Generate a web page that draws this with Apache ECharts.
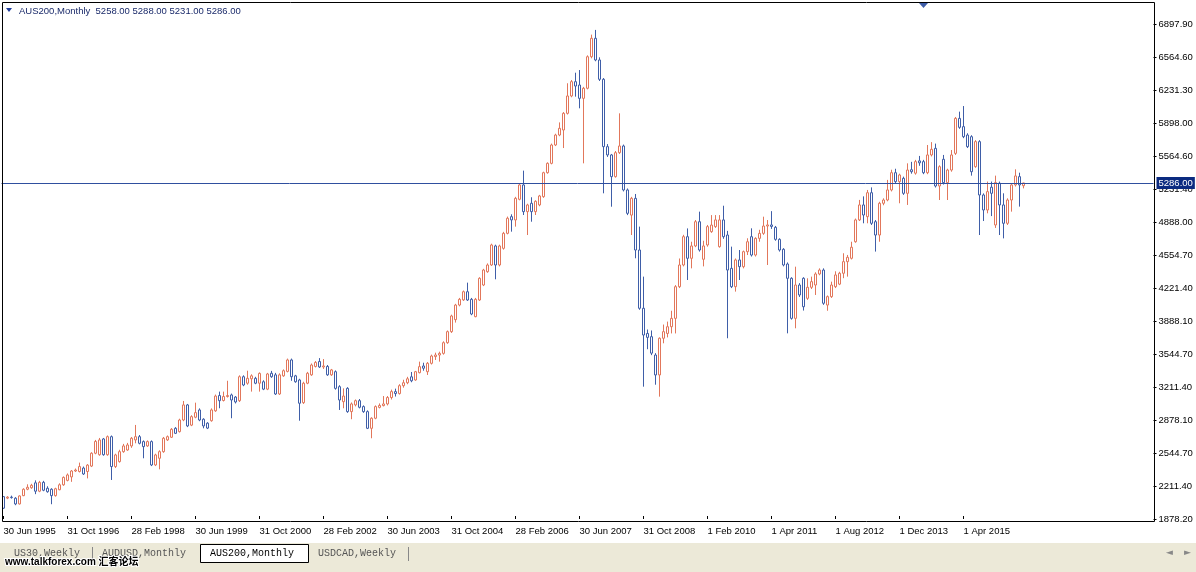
<!DOCTYPE html>
<html><head><meta charset="utf-8">
<script src="https://cdn.jsdelivr.net/npm/echarts@6/dist/echarts.min.js"></script>
<style>html,body{margin:0;padding:0;background:#fff;}#c{width:1196px;height:572px;}</style>
</head><body><div id="c"></div>
<script>
// ---------- data ----------
const symbolName = 'AUS200,Monthly';
const xTickLabels = ['30 Jun 1995','31 Oct 1996','28 Feb 1998','30 Jun 1999','31 Oct 2000','28 Feb 2002','30 Jun 2003','31 Oct 2004','28 Feb 2006','30 Jun 2007','31 Oct 2008','1 Feb 2010','1 Apr 2011','1 Aug 2012','1 Dec 2013','1 Apr 2015'];
const yTickLabels = ['1878.20','2211.40','2544.70','2878.10','3211.40','3544.70','3888.10','4221.40','4554.70','4888.00','5231.40','5564.60','5898.00','6231.30','6564.60','6897.90'];
const yMin = 1878.2, yMax = 6897.9;
const currentPrice = 5286.00;
const tabNames = ['US30,Weekly','AUDUSD,Monthly','AUS200,Monthly','USDCAD,Weekly'];
const activeTab = 2;
const watermark = 'www.talkforex.com 汇客论坛';
// [open, close, low, high]
const ohlc = [
[2105,1988,1980,2110],[2090,2100,2080,2110],[2100,2095,2085,2115],[2089,2031,2018,2100],[2031,2112,2025,2118],
[2115,2180,2110,2190],[2180,2200,2170,2230],[2195,2220,2185,2235],[2245,2160,2130,2270],[2160,2250,2150,2265],
[2250,2170,2160,2265],[2190,2155,2145,2210],[2180,2115,2028,2190],[2115,2185,2105,2195],[2175,2225,2170,2240],
[2225,2300,2215,2310],[2270,2325,2260,2340],[2305,2365,2255,2375],[2365,2375,2355,2390],[2360,2410,2350,2450],
[2395,2335,2325,2410],[2360,2425,2290,2435],[2415,2545,2405,2555],[2545,2665,2535,2680],[2530,2680,2520,2700],
[2690,2530,2520,2700],[2530,2713,2520,2725],[2713,2410,2274,2725],[2410,2528,2395,2540],[2460,2561,2450,2580],
[2561,2619,2550,2640],[2578,2629,2570,2650],[2619,2697,2600,2710],[2680,2713,2646,2832],[2713,2646,2635,2730],
[2663,2612,2494,2675],[2619,2663,2610,2675],[2663,2426,2415,2675],[2426,2528,2415,2540],[2494,2561,2382,2575],
[2561,2697,2550,2710],[2680,2713,2670,2725],[2707,2788,2700,2800],[2798,2747,2740,2810],[2764,2882,2755,2895],
[2882,3035,2870,3075],[3035,2822,2810,3045],[2830,2916,2820,2930],[2910,2957,2900,3058],[2984,2882,2870,3000],
[2890,2822,2798,2900],[2850,2800,2790,2860],[2875,2984,2865,3000],[2975,3125,2965,3140],[3130,3078,3001,3170],
[3080,3120,3070,3170],[3120,3130,3110,3280],[3136,3085,2900,3150],[3115,3065,3050,3125],[3078,3321,3065,3335],
[3321,3237,3225,3335],[3255,3305,3240,3382],[3300,3330,3170,3345],[3305,3255,3245,3320],[3255,3355,3170,3365],
[3270,3195,3185,3285],[3195,3349,3185,3360],[3356,3321,3310,3380],[3340,3146,3136,3360],[3146,3340,3136,3355],
[3330,3382,3320,3395],[3375,3491,3365,3505],[3491,3321,3280,3505],[3330,3270,3260,3340],[3288,3052,2875,3300],
[3058,3255,3045,3270],[3255,3356,3245,3370],[3340,3440,3330,3455],[3425,3466,3415,3480],[3475,3420,3410,3510],
[3420,3430,3400,3500],[3425,3340,3330,3440],[3340,3390,3330,3400],[3372,3203,3190,3385],[3220,3085,2984,3235],
[3068,3125,3001,3203],[3203,2967,2955,3215],[2967,3045,2890,3060],[3035,3078,3020,3090],[3078,3011,3000,3095],
[3018,2967,2955,3030],[2967,2798,2790,2980],[2798,2900,2697,2910],[2900,3018,2890,3030],[3010,3030,3000,3050],
[3028,3045,3020,3125],[3045,3110,3030,3125],[3110,3170,3090,3190],[3170,3150,3120,3200],[3150,3230,3140,3245],
[3230,3260,3210,3290],[3260,3300,3245,3320],[3320,3280,3265,3369],[3288,3372,3280,3380],[3362,3423,3355,3474],
[3430,3407,3382,3463],[3372,3457,3339,3470],[3457,3531,3445,3545],[3525,3541,3491,3565],[3541,3558,3474,3575],
[3558,3666,3545,3680],[3666,3778,3655,3790],[3778,3937,3765,3950],[3900,4048,3870,4060],[4048,4106,4035,4120],
[4100,4183,4090,4195],[4183,4099,4090,4275],[4106,3957,3945,4120],[3930,4106,3924,4120],[4099,4319,4090,4330],
[4251,4403,4240,4415],[4386,4454,4375,4470],[4454,4657,4445,4670],[4647,4454,4309,4660],[4454,4647,4440,4660],
[4623,4775,4610,4790],[4775,4928,4765,4945],[4944,4911,4792,4968],[4911,5130,4843,5145],[5120,5266,5110,5280],
[5266,4995,4961,5411],[4995,5063,4758,5075],[5080,4995,4893,5141],[4995,5100,4961,5110],[5063,5154,5050,5165],
[5147,5390,5135,5400],[5390,5485,5380,5495],[5485,5671,5475,5685],[5671,5772,5660,5785],[5772,5840,5760,5900],
[5823,5992,5640,6005],[5992,6168,5980,6297],[6168,6313,6155,6330],[6313,6269,6161,6404],[6279,6144,6043,6431],
[6144,6246,5485,6260],[6246,6566,6235,6580],[6566,6753,6550,6790],[6753,6533,6520,6838],[6533,6337,6320,6560],
[6337,5654,5181,6350],[5654,5570,5550,5680],[5570,5350,5045,5580],[5350,5593,5340,5610],[5593,5661,5580,5992],
[5661,5215,5200,5675],[5215,4978,4960,5230],[4960,5130,4758,5145],[5130,4606,4522,5174],[4606,4015,4000,4843],
[4015,3744,3220,4336],[3760,3720,3600,3800],[3727,3560,3540,3790],[3541,3339,3240,3560],[3339,3711,3119,3720],
[3711,3778,3660,3850],[3760,3828,3720,3880],[3828,3913,3760,3990],[3913,4234,3760,4250],[4234,4454,4220,4520],
[4454,4741,4440,4760],[4741,4522,4302,4825],[4522,4647,4420,4690],[4647,4893,4635,4910],[4893,4606,4590,4995],
[4512,4647,4440,4700],[4657,4843,4640,4860],[4792,4859,4780,4960],[4843,4911,4830,4960],[4640,4911,4630,4960],
[4911,4741,4720,5055],[4758,4403,3711,4800],[4420,4234,4220,4640],[4234,4505,4184,4520],[4505,4437,4302,4606],
[4437,4589,4420,4600],[4589,4690,4555,4725],[4741,4555,4540,4826],[4555,4724,4540,4735],[4724,4775,4690,4811],
[4775,4849,4760,4944],[4849,4860,4454,4910],[4860,4845,4820,5000],[4836,4714,4700,4850],[4714,4606,4590,4725],
[4613,4454,4440,4625],[4464,4319,3761,4480],[4319,3913,3900,4330],[3913,4251,3812,4437],[4251,4150,4130,4270],
[4319,4031,3992,4330],[4116,4228,4100,4319],[4228,4285,4210,4336],[4251,4363,4150,4380],[4363,4403,4350,4420],
[4403,4066,4050,4420],[4048,4133,3990,4145],[4133,4251,4120,4285],[4234,4353,4220,4390],[4260,4370,4250,4385],
[4370,4488,4320,4573],[4488,4532,4336,4556],[4522,4634,4510,4690],[4690,4911,4680,4925],[4911,5063,4900,5114],
[5063,4961,4877,5150],[4944,5187,4877,5215],[5187,4877,4860,5241],[4893,4758,4590,4910],[4758,5080,4690,5095],
[5080,5113,5060,5130],[5113,5215,5100,5317],[5215,5390,5200,5420],[5390,5299,5280,5430],[5299,5367,5080,5380],
[5333,5181,5165,5350],[5181,5417,5063,5485],[5420,5400,5380,5500],[5385,5502,5370,5520],[5510,5490,5460,5560],
[5502,5390,5375,5520],[5390,5570,5375,5671],[5570,5627,5555,5700],[5637,5255,5240,5685],[5255,5451,5113,5465],
[5526,5289,5270,5570],[5289,5417,5113,5430],[5417,5570,5400,5620],[5586,5941,5570,5955],[5941,5850,5835,6009],
[5857,5755,5740,6066],[5772,5654,5640,5790],[5755,5400,5360,5770],[5451,5705,5440,5720],[5705,5164,4758,5720],
[5164,5012,4900,5180],[5012,5198,4978,5300],[5243,5181,4950,5300],[4860,5290,4830,5360],[5283,5063,4758,5300],
[5063,4877,4724,5181],[4877,5113,4860,5130],[5113,5266,4995,5280],[5266,5357,5250,5424],[5350,5266,5046,5390],
[5258,5286,5231,5288]
];

// ---------- categories (monthly bars) ----------
const MON = ['Jan','Feb','Mar','Apr','May','Jun','Jul','Aug','Sep','Oct','Nov','Dec'];
function monthLabel(y, m, endOfMonth) {
  const d = endOfMonth ? new Date(Date.UTC(y, m + 1, 0)).getUTCDate() : 1;
  return d + ' ' + MON[m] + ' ' + y;
}
const categories = ohlc.map((_, i) => {
  let mi;
  if (i < 176) { mi = 1995 * 12 + 5 + i; const y = Math.floor(mi / 12); return monthLabel(y, mi % 12, true); }
  if (i < 192) mi = 2010 * 12 + 1 + Math.round((i - 176) * 14 / 16);
  else mi = 2011 * 12 + 3 + (i - 192);
  return monthLabel(Math.floor(mi / 12), mi % 12, false);
});

// ---------- chart ----------
const UP = '#e2775b', DOWN = '#3f5ea8';
const FONT = 'Liberation Sans';
const chart = echarts.init(document.getElementById('c'), null, {renderer: 'canvas'});
const last = ohlc[ohlc.length - 1];
const header = symbolName + '  ' + [last[0], last[3], last[2], last[1]].map(v => v.toFixed(2)).join(' ');
const slots = 288;
const tickShown = i => i % 16 === 0 && i < ohlc.length;

const tabGraphics = [];
let tx = 4;
const tabW = [88, 108, 108, 100];
tabNames.forEach((t, i) => {
  if (i === activeTab) {
    tabGraphics.push({type:'rect', shape:{x:tx + 0.5, y:544.5, width:tabW[i], height:18}, style:{fill:'#fff', stroke:'#000', lineWidth:1}});
  } else {
    tabGraphics.push({type:'line', shape:{x1:tx + tabW[i] + 0.5, y1:547, x2:tx + tabW[i] + 0.5, y2:561}, style:{stroke:'#888', lineWidth:1}});
  }
  tabGraphics.push({type:'text', x: tx + 10, y: 553, style:{text:t, fill: i === activeTab ? '#000' : '#555', font:'10px "Liberation Mono"', verticalAlign:'middle'}});
  tx += tabW[i];
});

chart.setOption({
  animation: false,
  backgroundColor: '#fff',
  grid: {left: 1.5, width: slots * 4, top: 24, bottom: 53, show: false},
  xAxis: {
    type: 'category', data: categories, max: slots - 1, boundaryGap: true,
    axisLine: {show: false},
    axisTick: {show: true, interval: tickShown, alignWithLabel: true, length: -3, lineStyle: {color: '#000'}},
    axisLabel: {
      interval: tickShown, align: 'left', margin: 7, color: '#000', fontSize: 9.5, fontFamily: FONT,
      formatter: (v, i) => (i < ohlc.length ? (v || '') : '')
    },
    splitLine: {show: false}
  },
  yAxis: {
    type: 'value', position: 'right', min: yMin, max: yMax, interval: (yMax - yMin) / 15,
    axisLine: {show: false}, splitLine: {show: false},
    axisTick: {show: true, length: 3, lineStyle: {color: '#000'}},
    axisLabel: {
      margin: 5, color: '#000', fontSize: 9.5, fontFamily: FONT,
      formatter: v => yTickLabels[Math.round((v - yMin) / ((yMax - yMin) / 15))] || ''
    }
  },
  series: [{
    type: 'candlestick', data: ohlc, barWidth: 3,
    itemStyle: {color: '#fff', color0: '#fff', borderColor: UP, borderColor0: DOWN, borderWidth: 1},
    markLine: {
      silent: true, symbol: 'none', animation: false,
      lineStyle: {color: '#2f4f9f', width: 1, type: 'solid'},
      label: {position: 'end', distance: 3, formatter: () => currentPrice.toFixed(2), color: '#fff', backgroundColor: '#0b2a80', padding: [1, 2, 1, 2], fontSize: 9.5, fontFamily: FONT},
      data: [{yAxis: currentPrice}]
    }
  }],
  graphic: [
    {type:'rect', shape:{x:2.5, y:2.5, width:1152, height:519}, style:{fill:'none', stroke:'#000', lineWidth:1}, z: 100},
    {type:'polygon', shape:{points:[[6,8],[12,8],[9,12]]}, style:{fill:'#1c3a9a'}},
    {type:'text', x: 19, y: 11, style:{text: header, fill:'#1a2a6a', font:'9.5px "Liberation Sans"', verticalAlign:'middle'}},
    {type:'polygon', shape:{points:[[919,3],[928,3],[923.5,8]]}, style:{fill:'#3f5ea8'}},
    {type:'rect', shape:{x:0, y:543, width:1196, height:29}, style:{fill:'#ece9d8'}, z: -1},
    ...tabGraphics,
    {type:'text', x: 1166, y: 553, style:{text:'◄', fill:'#888', font:'9px "DejaVu Sans"', verticalAlign:'middle'}},
    {type:'text', x: 1184, y: 553, style:{text:'►', fill:'#888', font:'9px "DejaVu Sans"', verticalAlign:'middle'}},
    {type:'text', x: 5, y: 562, style:{text: watermark, fill:'#000', stroke:'#fff', lineWidth: 2, font:'bold 10px "Liberation Sans", "Noto Sans CJK SC"', verticalAlign:'middle'}, z: 200}
  ]
});
</script>
</body></html>
